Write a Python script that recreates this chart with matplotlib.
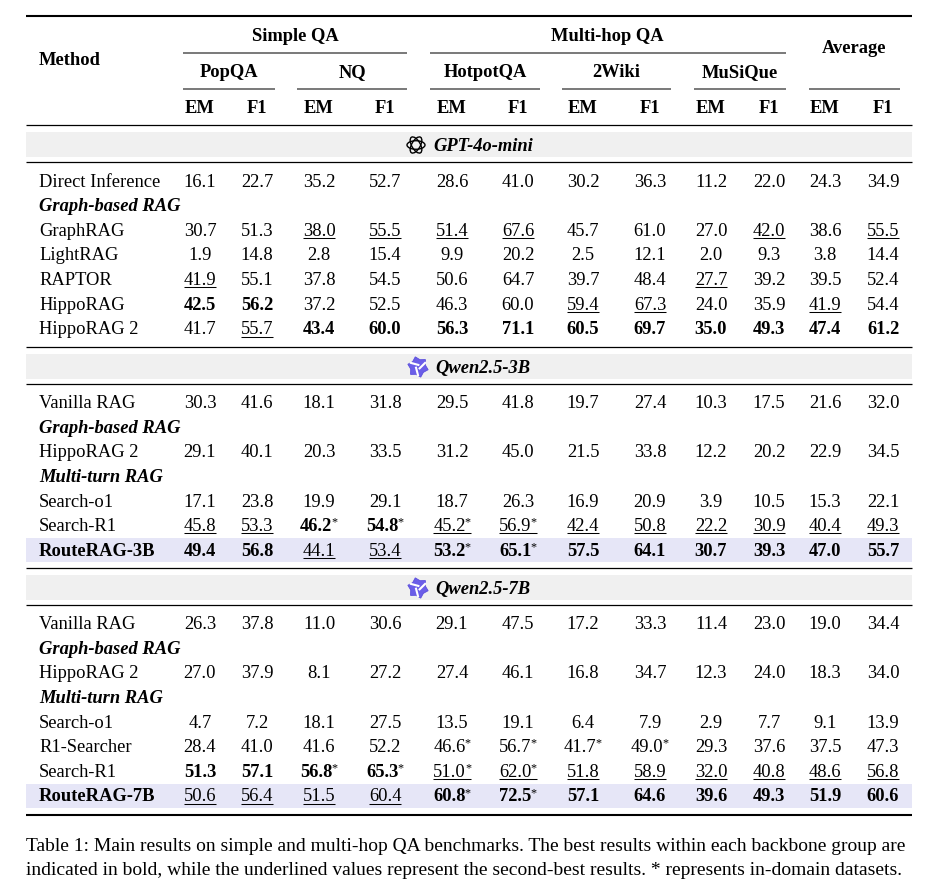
import matplotlib
matplotlib.use("Agg")
import math
import matplotlib.pyplot as plt
from matplotlib.patches import Rectangle, Ellipse, Polygon

# ---------------- data ----------------
superheaders = ["Simple QA", "Multi-hop QA"]
datasets = ["PopQA", "NQ", "HotpotQA", "2Wiki", "MuSiQue"]
avg_header = "Average"
metrics = ["EM", "F1"] * 6
groups = ["GPT-4o-mini", "Qwen2.5-3B", "Qwen2.5-7B"]

# rows: (label, kind) kind: 'row', 'sec', 'ours'
g1_labels = ["Direct Inference", "Graph-based RAG", "GraphRAG", "LightRAG", "RAPTOR", "HippoRAG", "HippoRAG 2"]
g1_kinds = ["row", "sec", "row", "row", "row", "row", "row"]
g1_values = [
    [16.1, 22.7, 35.2, 52.7, 28.6, 41.0, 30.2, 36.3, 11.2, 22.0, 24.3, 34.9],
    None,
    [30.7, 51.3, 38.0, 55.5, 51.4, 67.6, 45.7, 61.0, 27.0, 42.0, 38.6, 55.5],
    [1.9, 14.8, 2.8, 15.4, 9.9, 20.2, 2.5, 12.1, 2.0, 9.3, 3.8, 14.4],
    [41.9, 55.1, 37.8, 54.5, 50.6, 64.7, 39.7, 48.4, 27.7, 39.2, 39.5, 52.4],
    [42.5, 56.2, 37.2, 52.5, 46.3, 60.0, 59.4, 67.3, 24.0, 35.9, 41.9, 54.4],
    [41.7, 55.7, 43.4, 60.0, 56.3, 71.1, 60.5, 69.7, 35.0, 49.3, 47.4, 61.2],
]
# style: n normal, b bold, u underline
g1_styles = ["nnnnnnnnnnnn", None, "nnuuuunnnunu", "nnnnnnnnnnnn", "unnnnnnnunnn",
             "bbnnnnuunnun", "nubbbbbbbbbb"]
g1_stars = ["000000000000", None, "000000000000", "000000000000", "000000000000",
            "000000000000", "000000000000"]

g2_labels = ["Vanilla RAG", "Graph-based RAG", "HippoRAG 2", "Multi-turn RAG", "Search-o1", "Search-R1", "RouteRAG-3B"]
g2_kinds = ["row", "sec", "row", "sec", "row", "row", "ours"]
g2_values = [
    [30.3, 41.6, 18.1, 31.8, 29.5, 41.8, 19.7, 27.4, 10.3, 17.5, 21.6, 32.0],
    None,
    [29.1, 40.1, 20.3, 33.5, 31.2, 45.0, 21.5, 33.8, 12.2, 20.2, 22.9, 34.5],
    None,
    [17.1, 23.8, 19.9, 29.1, 18.7, 26.3, 16.9, 20.9, 3.9, 10.5, 15.3, 22.1],
    [45.8, 53.3, 46.2, 54.8, 45.2, 56.9, 42.4, 50.8, 22.2, 30.9, 40.4, 49.3],
    [49.4, 56.8, 44.1, 53.4, 53.2, 65.1, 57.5, 64.1, 30.7, 39.3, 47.0, 55.7],
]
g2_styles = ["nnnnnnnnnnnn", None, "nnnnnnnnnnnn", None, "nnnnnnnnnnnn",
             "uubbuuuuuuuu", "bbuubbbbbbbb"]
g2_stars = ["000000000000", None, "000000000000", None, "000000000000",
            "001111000000", "000011000000"]

g3_labels = ["Vanilla RAG", "Graph-based RAG", "HippoRAG 2", "Multi-turn RAG", "Search-o1",
             "R1-Searcher", "Search-R1", "RouteRAG-7B"]
g3_kinds = ["row", "sec", "row", "sec", "row", "row", "row", "ours"]
g3_values = [
    [26.3, 37.8, 11.0, 30.6, 29.1, 47.5, 17.2, 33.3, 11.4, 23.0, 19.0, 34.4],
    None,
    [27.0, 37.9, 8.1, 27.2, 27.4, 46.1, 16.8, 34.7, 12.3, 24.0, 18.3, 34.0],
    None,
    [4.7, 7.2, 18.1, 27.5, 13.5, 19.1, 6.4, 7.9, 2.9, 7.7, 9.1, 13.9],
    [28.4, 41.0, 41.6, 52.2, 46.6, 56.7, 41.7, 49.0, 29.3, 37.6, 37.5, 47.3],
    [51.3, 57.1, 56.8, 65.3, 51.0, 62.0, 51.8, 58.9, 32.0, 40.8, 48.6, 56.8],
    [50.6, 56.4, 51.5, 60.4, 60.8, 72.5, 57.1, 64.6, 39.6, 49.3, 51.9, 60.6],
]
g3_styles = ["nnnnnnnnnnnn", None, "nnnnnnnnnnnn", None, "nnnnnnnnnnnn",
             "nnnnnnnnnnnn", "bbbbuuuuuuuu", "uuuubbbbbbbb"]
g3_stars = ["000000000000", None, "000000000000", None, "000000000000",
            "000011110000", "001111000000", "000011000000"]

caption_lines = [
    "Table 1: Main results on simple and multi-hop QA benchmarks. The best results within each backbone group are",
    "indicated in bold, while the underlined values represent the second-best results. * represents in-domain datasets.",
]

# ---------------- layout ----------------
W, H = 944, 894
FONT = "Liberation Serif"
FS = 13.3
CAP_FS = 14.0
fig = plt.figure(figsize=(W / 100, H / 100), dpi=100)
ax = fig.add_axes([0, 0, 1, 1])
ax.set_xlim(0, W)
ax.set_ylim(H, 0)
ax.axis("off")
renderer = fig.canvas.get_renderer()

LEFT, RIGHT = 26, 912
col_x = [200, 257, 319, 385, 452, 518, 583, 650, 711, 769, 825, 883]
label_x = 39
row_h = 24.6
BASE = 6.2  # baseline offset below visual centre


def hline(y, x0=LEFT, x1=RIGHT, lw=0.9, color="black"):
    ax.plot([x0, x1], [y, y], color=color, lw=lw, solid_capstyle="butt")


def txt(x, y, s, ha="center", weight="normal", style="normal", fs=FS, color="black"):
    return ax.text(x, y + BASE, s, ha=ha, va="baseline", fontsize=fs, family=FONT,
                   weight=weight, style=style, color=color)


def width_of(t):
    return t.get_window_extent(renderer).width


def cell(xc, yc, v, st, star):
    s = f"{v:.1f}"
    weight = "bold" if st == "b" else "normal"
    t = ax.text(0, yc + BASE, s, ha="left", va="baseline", fontsize=FS, family=FONT, weight=weight)
    w = width_of(t)
    sw = 0
    ts = None
    if star == "1":
        ts = ax.text(0, yc + BASE - 5.5, "*", ha="left", va="baseline", fontsize=FS * 0.66,
                     family=FONT, weight="normal")
        sw = width_of(ts) - 0.8
    total = w + sw
    x0 = xc - total / 2
    t.set_x(x0)
    if ts is not None:
        ts.set_x(x0 + w - 0.8)
    if st == "u":
        ax.plot([x0, x0 + total], [yc + BASE + 2.2, yc + BASE + 2.2], color="black", lw=0.75,
                solid_capstyle="butt")


# header
hline(16, lw=1.5)
txt(295, 35, superheaders[0], weight="bold")
txt(607, 35, superheaders[1], weight="bold")
txt(label_x, 59, "Method", ha="left", weight="bold")
txt(854, 47, avg_header, weight="bold")
hline(53, 183, 407, lw=1.1, color="#555555")
hline(53, 430, 786, lw=1.1, color="#555555")
spans = [(183, 275), (297, 407), (430, 540), (562, 671), (694, 786)]
for (a, b), name in zip(spans, datasets):
    txt((a + b) / 2, 71, name, weight="bold")
    hline(89, a, b, lw=1.1, color="#555555")
hline(89, 809, 900, lw=1.1, color="#555555")
for x, m in zip(col_x, metrics):
    txt(x, 107, m, weight="bold")
hline(125, lw=0.9)


def openai_icon(cx, cy, r=9):
    for ang in (0, 60, 120):
        ax.add_patch(Ellipse((cx, cy), 2 * r, r * 0.95, angle=ang, fill=False,
                             ec="black", lw=1.0))


def qwen_icon(cx, cy, r=10.5):
    pts = []
    for k in range(12):
        a = math.radians(k * 30 + 15)
        rr = r if k % 2 == 0 else r * 0.72
        pts.append((cx + rr * math.cos(a), cy + rr * math.sin(a)))
    ax.add_patch(Polygon(pts, closed=True, fc="#6b5ee8", ec="#5b4fdc", lw=0.6))
    for a in (90, 210, 330):
        x1 = cx + r * 0.78 * math.cos(math.radians(a))
        y1 = cy + r * 0.78 * math.sin(math.radians(a))
        x2 = cx + r * 0.2 * math.cos(math.radians(a + 70))
        y2 = cy + r * 0.2 * math.sin(math.radians(a + 70))
        ax.plot([x1, x2], [y1, y2], color="white", lw=1.5)


def band(y0, y1, color):
    ax.add_patch(Rectangle((LEFT, y0), RIGHT - LEFT, y1 - y0, fc=color, ec="none", zorder=0))


def group_header(y0, y1, name, icon):
    band(y0, y1, "#f0f0f0")
    yc = (y0 + y1) / 2 + 0.5
    t = ax.text(435, yc + BASE, name, ha="left", va="baseline", fontsize=FS, family=FONT,
                weight="bold", style="italic")
    if icon == "openai":
        t.set_x(433)
        openai_icon(416, yc)
    else:
        qwen_icon(418, yc)


def group_rows(y_first, labels, kinds, values, styles, stars):
    y = y_first
    for lab, kind, vals, st, sr in zip(labels, kinds, values, styles, stars):
        if kind == "sec":
            txt(label_x, y, lab, ha="left", weight="bold", style="italic")
        else:
            if kind == "ours":
                band(y - 11.5, y + 12.5, "#e6e6f7")
            txt(label_x, y, lab, ha="left", weight="bold" if kind == "ours" else "normal")
            for x, v, s, a in zip(col_x, vals, st, sr):
                cell(x, y, v, s, a)
        y += row_h
    return y


group_header(132, 157, groups[0], "openai")
hline(162, lw=0.9)
group_rows(180.5, g1_labels, g1_kinds, g1_values, g1_styles, g1_stars)
hline(346.5, lw=0.9)

group_header(354, 379, groups[1], "qwen")
hline(383.5, lw=0.9)
group_rows(402, g2_labels, g2_kinds, g2_values, g2_styles, g2_stars)
hline(568, lw=0.9)

group_header(575, 600, groups[2], "qwen")
hline(604.5, lw=0.9)
group_rows(623, g3_labels, g3_kinds, g3_values, g3_styles, g3_stars)
hline(814.5, lw=1.5)

for i, line in enumerate(caption_lines):
    ax.text(LEFT, 845 + i * 23.5 + BASE, line, ha="left", va="baseline", fontsize=CAP_FS,
            family=FONT)

fig.savefig("out.png", dpi=100)
